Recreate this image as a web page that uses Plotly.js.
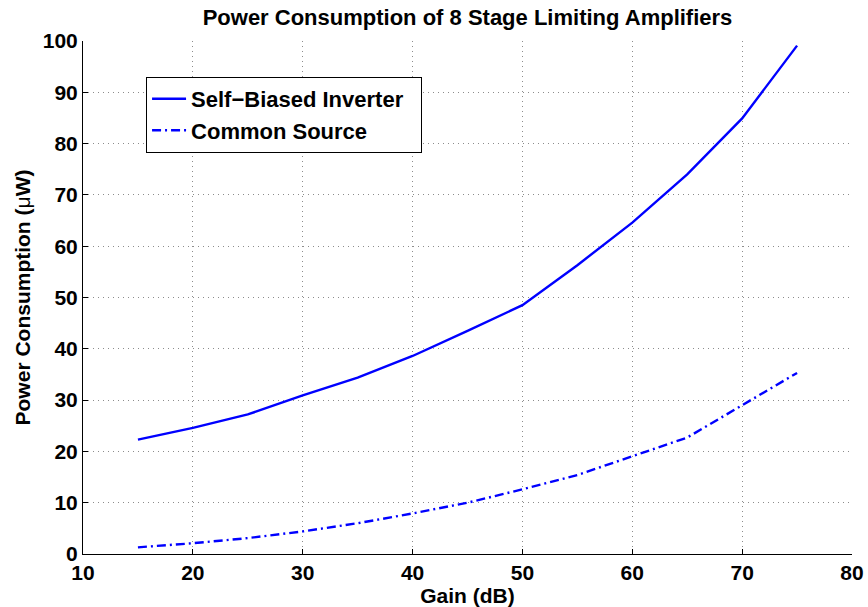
<!DOCTYPE html>
<html>
<head>
<meta charset="utf-8">
<script src="https://cdn.plot.ly/plotly-3.0.1.min.js"></script>
<style>html,body{margin:0;padding:0;background:#fff;}#chart{width:868px;height:607px;}</style>
</head>
<body>
<div id="chart"></div>
<script>
const gain = [15, 20, 25, 30, 35, 40, 45, 50, 55, 60, 65, 70, 75];
const selfBiasedInverter = [22.3, 24.6, 27.2, 30.9, 34.4, 38.6, 43.5, 48.5, 56.3, 64.6, 74.0, 84.9, 99.1];
const commonSource = [1.3, 2.1, 3.1, 4.4, 6.0, 7.9, 10.0, 12.6, 15.4, 19.1, 22.7, 29.0, 35.3];
const xTicks = [10, 20, 30, 40, 50, 60, 70, 80];
const yTicks = [0, 10, 20, 30, 40, 50, 60, 70, 80, 90, 100];

const fontFam = 'Liberation Sans, Arial, Helvetica, sans-serif';
const FS = 21;

const traces = [
  {x: gain, y: selfBiasedInverter, type: 'scatter', mode: 'lines', name: '<b>Self−Biased Inverter</b>&nbsp;&nbsp;',
   line: {color: '#0000ff', width: 2.4}},
  {x: gain, y: commonSource, type: 'scatter', mode: 'lines', name: '<b>Common Source</b>',
   line: {color: '#0000ff', width: 2.4, dash: '9px,4px,2px,4px'}}
];

const axisCommon = {
  showline: true, linecolor: '#000', linewidth: 1,
  ticks: 'inside', ticklen: 5, tickcolor: '#000', tickwidth: 1,
  showgrid: true, gridcolor: '#8c8c8c', griddash: '1px,4px', gridwidth: 1,
  zeroline: false, mirror: false,
  tickfont: {family: fontFam, size: FS, color: '#000', weight: 'bold'}
};

const layout = {
  width: 868, height: 607,
  margin: {l: 83, r: 16, t: 41, b: 53},
  paper_bgcolor: '#fff', plot_bgcolor: '#fff',
  title: {text: '<b>Power Consumption of 8 Stage Limiting Amplifiers</b>',
    font: {family: fontFam, size: 22, color: '#000'},
    x: 0.5, xref: 'paper', y: 1 - 17/607, yref: 'container', yanchor: 'middle'},
  xaxis: Object.assign({}, axisCommon, {
    range: [10, 80], tickvals: xTicks, ticktext: xTicks.map(String), automargin: false,
    title: {text: '<b>Gain (dB)</b>', font: {family: fontFam, size: FS, color: '#000'}, standoff: 0}
  }),
  yaxis: Object.assign({}, axisCommon, {
    range: [0, 100], tickvals: yTicks, ticktext: yTicks.map(String), automargin: false,
    title: {text: '<b>Power Consumption (</b>μ<b>W)</b>', font: {family: fontFam, size: FS, color: '#000'}, standoff: 6}
  }),
  showlegend: true,
  legend: {x: 0.082, y: 0.930, xanchor: 'left', yanchor: 'top',
    bgcolor: '#fff', bordercolor: '#000', borderwidth: 1,
    font: {family: fontFam, size: 22, color: '#000'},
    tracegroupgap: 0, itemwidth: 34}
};

Plotly.newPlot('chart', traces, layout, {displayModeBar: false, staticPlot: true});
</script>
</body>
</html>
